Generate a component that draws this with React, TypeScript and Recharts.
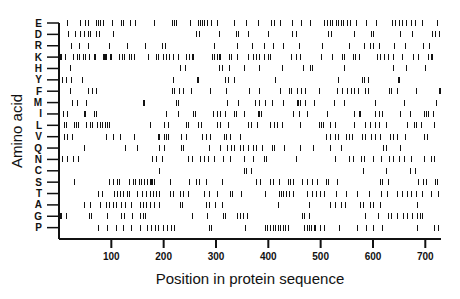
import { ScatterChart, Scatter, XAxis, YAxis } from "recharts";

const aminoAcids = ["E", "D", "R", "K", "H", "Y", "F", "M", "I", "L", "V", "Q", "N", "C", "S", "T", "A", "G", "P"];

const posE = [15, 40, 50, 55, 71, 75, 79, 84, 101, 118, 122, 135, 146, 182, 216, 219, 224, 251, 265, 270, 274, 278, 282, 290, 302, 334, 358, 380, 406, 410, 423, 446, 462, 479, 506, 512, 517, 522, 530, 534, 538, 542, 550, 557, 568, 587, 606, 636, 643, 649, 655, 664, 673, 680, 694, 722];
const posD = [18, 31, 41, 48, 55, 60, 71, 77, 103, 262, 268, 305, 338, 343, 361, 399, 446, 452, 514, 520, 563, 596, 600, 652, 675, 713, 719, 726];
const posR = [22, 39, 55, 96, 129, 165, 196, 202, 297, 340, 369, 391, 409, 428, 458, 503, 555, 582, 594, 601, 611, 641, 662, 696, 708];
const posK = [1, 2, 3, 11, 27, 34, 39, 45, 50, 57, 66, 69, 84, 86, 87, 89, 97, 99, 115, 120, 125, 133, 138, 143, 170, 185, 189, 199, 204, 210, 218, 227, 242, 249, 255, 257, 292, 297, 301, 305, 308, 324, 329, 341, 361, 371, 376, 382, 391, 399, 404, 444, 452, 461, 501, 522, 541, 544, 561, 566, 573, 608, 614, 622, 628, 639, 655, 676, 687, 705, 710, 713];
const posH = [21, 231, 241, 306, 311, 324, 353, 383, 426, 466, 479, 483, 544, 638, 663, 700];
const posY = [5, 14, 22, 43, 218, 264, 266, 317, 323, 334, 413, 534, 579, 583, 590, 647, 649];
const posF = [21, 55, 64, 70, 216, 220, 229, 237, 252, 288, 320, 364, 383, 422, 439, 443, 455, 463, 471, 496, 532, 541, 550, 558, 563, 571, 585, 590, 630, 634, 646, 682, 727, 729];
const posM = [24, 34, 52, 160, 162, 223, 227, 321, 343, 375, 383, 394, 407, 429, 454, 457, 461, 470, 487, 525, 544, 603, 659, 720];
const posI = [8, 15, 47, 50, 66, 71, 205, 227, 257, 260, 294, 302, 308, 317, 334, 339, 354, 380, 382, 386, 448, 458, 474, 513, 563, 573, 576, 604, 611, 617, 651, 670, 697, 701, 706, 715];
const posL = [10, 13, 28, 32, 37, 52, 60, 64, 73, 78, 82, 87, 92, 95, 173, 200, 209, 243, 247, 265, 271, 301, 307, 323, 362, 366, 378, 403, 410, 417, 426, 461, 496, 501, 504, 517, 527, 563, 585, 594, 603, 611, 624, 665, 678, 682, 692, 716];
const posV = [9, 15, 24, 90, 103, 116, 144, 189, 192, 200, 204, 208, 234, 243, 273, 280, 289, 315, 320, 327, 345, 511, 518, 527, 534, 548, 554, 559, 579, 585, 596, 604, 614, 632, 639, 645, 662, 697, 704];
const posQ = [47, 127, 149, 192, 200, 234, 237, 286, 308, 321, 329, 335, 345, 352, 362, 371, 377, 388, 407, 410, 430, 460, 485, 517, 539, 620, 625, 651];
const posN = [6, 15, 27, 36, 178, 185, 197, 246, 255, 270, 278, 284, 296, 313, 327, 354, 371, 391, 396, 452, 528, 554, 561, 577, 582, 600, 615, 630, 638, 649, 660, 673, 697, 710, 716];
const posC = [191, 353, 358, 366, 581, 624, 671, 681];
const posS = [29, 95, 104, 111, 114, 133, 141, 146, 152, 157, 163, 168, 173, 176, 178, 181, 213, 249, 262, 268, 280, 311, 376, 385, 403, 409, 420, 438, 442, 448, 464, 473, 483, 493, 511, 515, 532, 613, 618, 628, 687, 696, 701, 719, 722];
const posT = [74, 82, 106, 111, 116, 122, 129, 134, 150, 159, 166, 173, 180, 186, 192, 213, 218, 231, 237, 246, 278, 286, 301, 326, 331, 348, 393, 420, 424, 429, 434, 439, 447, 474, 483, 491, 498, 507, 530, 549, 569, 592, 615, 627, 646, 655, 665, 673, 683, 694, 710, 724];
const posA = [47, 59, 78, 89, 95, 103, 109, 118, 127, 138, 155, 161, 166, 173, 182, 192, 232, 235, 281, 286, 299, 312, 418, 478, 517, 527, 538, 547, 576, 581, 594, 600, 614, 685];
const posG = [1, 2, 3, 14, 58, 61, 92, 119, 124, 139, 155, 161, 164, 254, 283, 313, 318, 341, 345, 352, 359, 465, 469, 477, 584, 609, 629, 634, 646, 657, 665, 675, 685, 689, 694];
const posP = [74, 92, 108, 122, 138, 154, 168, 175, 183, 190, 199, 206, 214, 220, 286, 290, 356, 393, 397, 403, 408, 412, 418, 423, 428, 432, 437, 468, 473, 477, 482, 487, 490, 499, 507, 536, 569, 587, 601, 617, 685, 717, 725];

const positionsByAcid = [posE, posD, posR, posK, posH, posY, posF, posM, posI, posL, posV, posQ, posN, posC, posS, posT, posA, posG, posP];

const xTicks = [100, 200, 300, 400, 500, 600, 700];
const rowTicks = aminoAcids.map((_, i) => i);

const points = aminoAcids.flatMap((aa, row) =>
  positionsByAcid[row].map((pos) => ({ aa, pos, row }))
);

function Mark(props: any) {
  const { cx, cy } = props;
  if (cx == null || cy == null) return null;
  const x = Math.round(cx) + 0.5;
  return (
    <line x1={x} x2={x} y1={Math.round(cy) - 3} y2={Math.round(cy) + 3} stroke="#111" strokeWidth={1} />
  );
}

const tickFont = { fill: "#111", fontSize: 10, fontWeight: "bold" as const, fontFamily: "Liberation Sans, Arial, sans-serif" };

export default function App() {
  return (
    <div style={{ position: "absolute", left: 0, top: 0, background: "#fff" }}>
      <ScatterChart width={460} height={299} margin={{ top: 23, right: 19, bottom: 14, left: 0 }}>
        <XAxis
          type="number"
          dataKey="pos"
          domain={[0, 730]}
          ticks={xTicks}
          allowDataOverflow
          height={46}
          tickSize={9}
          tickMargin={5}
          axisLine={{ stroke: "#111", strokeWidth: 2 }}
          tickLine={{ stroke: "#111", strokeWidth: 2 }}
          tick={tickFont}
          label={{
            value: "Position in protein sequence",
            position: "insideBottom",
            offset: 1,
            fill: "#111",
            fontSize: 15,
            fontFamily: "Liberation Sans, Arial, sans-serif",
          }}
        />
        <YAxis
          type="number"
          dataKey="row"
          domain={[0, 19]}
          ticks={rowTicks}
          interval={0}
          reversed
          width={59}
          tickSize={12}
          tickMargin={5}
          axisLine={{ stroke: "#111", strokeWidth: 2 }}
          tickLine={{ stroke: "#111", strokeWidth: 1.5 }}
          tick={tickFont}
          tickFormatter={(v: number) => aminoAcids[v] ?? ""}
          label={{
            content: (p: any) => {
              const vb = p.viewBox || {};
              const cy = (vb.y ?? 23) + (vb.height ?? 216) / 2;
              return (
                <text
                  x={16}
                  y={cy}
                  transform={`rotate(-90 16 ${cy})`}
                  textAnchor="middle"
                  dominantBaseline="central"
                  fill="#111"
                  fontSize={15}
                  fontFamily="Liberation Sans, Arial, sans-serif"
                >
                  Amino acid
                </text>
              );
            },
          }}
        />
        <Scatter data={points} shape={<Mark />} isAnimationActive={false} />
      </ScatterChart>
    </div>
  );
}
